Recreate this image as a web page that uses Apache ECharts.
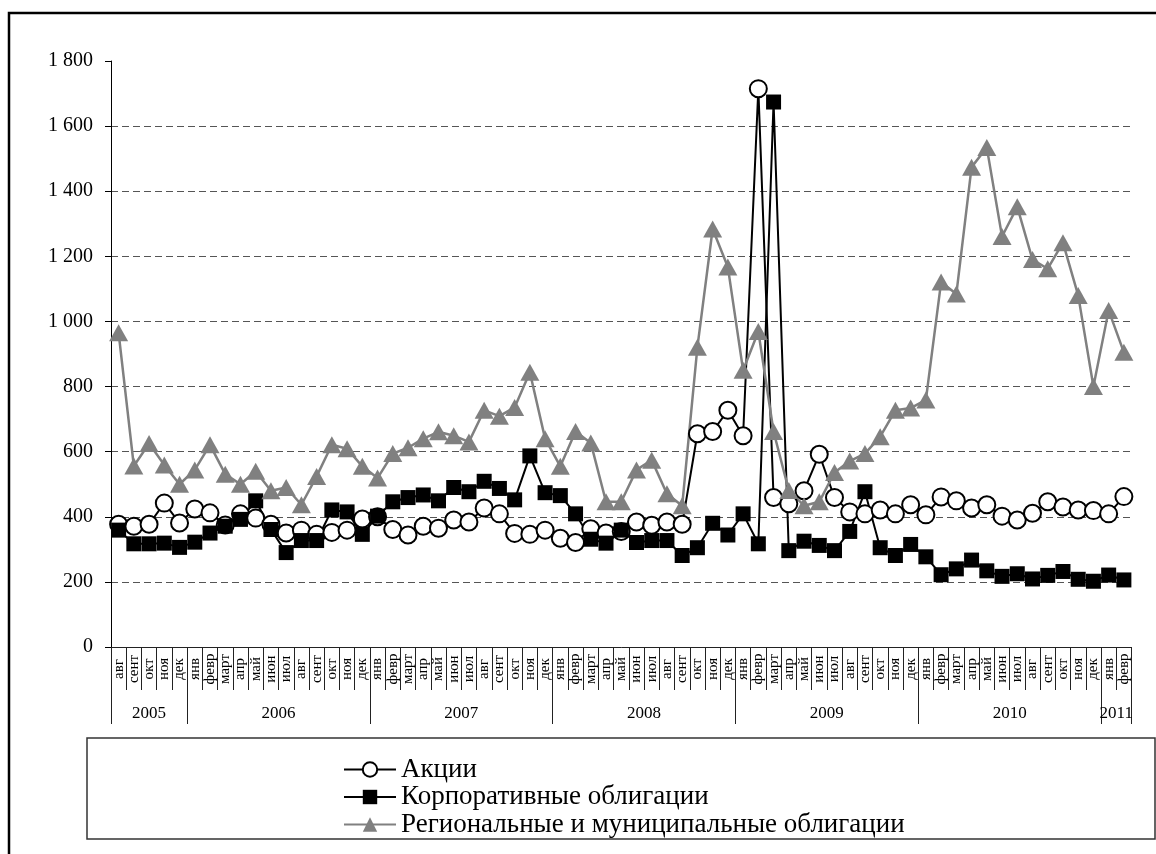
<!DOCTYPE html>
<html>
<head>
<meta charset="utf-8">
<script src="https://cdn.jsdelivr.net/npm/echarts@6/dist/echarts.min.js"></script>
<style>
html,body{margin:0;padding:0;background:#fff;}
#chart{width:1156px;height:854px;}
</style>
</head>
<body>
<div id="chart"></div>
<script>
// ---- Data ----
const years = ['2005', '2006', '2007', '2008', '2009', '2010', '2011'];
const monthsPerYear = [5, 12, 12, 12, 12, 12, 2];
const months = [
  'авг','сент','окт','ноя','дек',
  'янв','февр','март','апр','май','июн','июл','авг','сент','окт','ноя','дек',
  'янв','февр','март','апр','май','июн','июл','авг','сент','окт','ноя','дек',
  'янв','февр','март','апр','май','июн','июл','авг','сент','окт','ноя','дек',
  'янв','февр','март','апр','май','июн','июл','авг','сент','окт','ноя','дек',
  'янв','февр','март','апр','май','июн','июл','авг','сент','окт','ноя','дек',
  'янв','февр'
];
const yTicks = [0, 200, 400, 600, 800, 1000, 1200, 1400, 1600, 1800];

const seriesNames = ['Акции', 'Корпоративные облигации', 'Региональные и муниципальные облигации'];

const stocks = [
  377, 371, 377, 442, 381,
  424, 412, 375, 409, 396, 377, 350, 359, 346, 352, 359, 393,
  400, 361, 344, 371, 365, 390, 384, 427, 409, 349, 346, 359,
  334, 321, 363, 350, 355, 384, 374, 384, 377, 655, 662, 727,
  649, 1715, 459, 440, 480, 592, 459, 415, 409, 421, 409, 437,
  406, 461, 449, 427, 437, 402, 390, 411, 446, 430, 421, 419,
  409, 462
];
const corporate = [
  359, 317, 317, 319, 306,
  322, 350, 371, 392, 449, 361, 290, 327, 327, 421, 415, 346,
  402, 446, 459, 467, 449, 490, 477, 509, 487, 452, 587, 474,
  465, 409, 331, 319, 359, 321, 327, 327, 281, 305, 380, 344,
  409, 317, 1674, 296, 325, 312, 296, 355, 477, 305, 281, 315,
  277, 222, 240, 267, 234, 217, 225, 209, 220, 232, 208, 202,
  221, 206
];
const regional = [
  965, 556, 625, 559, 500,
  544, 621, 531, 500, 540, 480, 490, 437, 524, 621, 609, 555,
  519, 594, 612, 640, 661, 649, 630, 727, 709, 736, 844, 640,
  555, 662, 627, 446, 446, 544, 574, 471, 434, 921, 1284, 1167,
  850, 969, 662, 481, 434, 446, 536, 571, 594, 646, 727, 734,
  759, 1121, 1084, 1474, 1534, 1261, 1352, 1190, 1162, 1242, 1080, 800,
  1034, 905
];

// year boundaries and centres (in month units) for the year row
const yearBounds = [0];
monthsPerYear.forEach(function (n, i) { yearBounds.push(yearBounds[i] + n); });
const yearCenters = years.map(function (y, i) { return (yearBounds[i] + yearBounds[i + 1]) / 2; });
const yearByCenter = {};
yearCenters.forEach(function (c, i) { yearByCenter[c] = years[i]; });

const SERIF = '"Liberation Serif", "Times New Roman", serif';

const chart = echarts.init(document.getElementById('chart'), null, {renderer: 'canvas'});

chart.setOption({
  animation: false,
  backgroundColor: '#fff',
  grid: {left: 111, right: 24.5, top: 61, bottom: 207, containLabel: false},
  graphic: [
    {type: 'rect', shape: {x: 9, y: 13, width: 1300, height: 1000},
     style: {fill: 'none', stroke: '#000', lineWidth: 2.5}, z: -10, silent: true},
    {type: 'rect', shape: {x: 87, y: 738, width: 1068, height: 101},
     style: {fill: '#fff', stroke: '#333', lineWidth: 1.5}, z: -5, silent: true}
  ],
  legend: {
    orient: 'vertical',
    left: 338,
    top: 751,
    itemWidth: 52,
    itemHeight: 18,
    itemGap: 0.5,
    textStyle: {fontFamily: SERIF, fontSize: 27, color: '#000'},
    data: seriesNames
  },
  xAxis: [
    {
      type: 'category',
      data: months,
      boundaryGap: true,
      position: 'bottom',
      axisLine: {show: true, onZero: false, lineStyle: {color: '#222', width: 1}},
      axisTick: {show: true, interval: 0, length: 43, lineStyle: {color: '#222', width: 1}},
      axisLabel: {
        interval: 0, rotate: 90, align: 'center', verticalAlign: 'middle', margin: 22,
        fontFamily: SERIF, fontSize: 15, color: '#000'
      },
      splitLine: {show: false}
    },
    {
      type: 'value',
      min: 0,
      max: months.length,
      position: 'bottom',
      offset: 0,
      axisLine: {show: false, onZero: false},
      axisTick: {show: true, customValues: yearBounds, length: 77, lineStyle: {color: '#222', width: 1}},
      axisLabel: {
        show: true, customValues: yearCenters, margin: 58,
        fontFamily: SERIF, fontSize: 17, color: '#000',
        formatter: function (v) { return yearByCenter[v] || ''; }
      },
      splitLine: {show: false}
    }
  ],
  yAxis: {
    type: 'value',
    min: yTicks[0],
    max: yTicks[yTicks.length - 1],
    interval: yTicks[1] - yTicks[0],
    axisLine: {show: true, lineStyle: {color: '#000', width: 1}},
    axisTick: {show: true, length: 6, lineStyle: {color: '#000'}},
    axisLabel: {
      margin: 18, fontFamily: SERIF, fontSize: 20, color: '#000',
      formatter: function (v) { return String(v).replace(/\B(?=(\d{3})+(?!\d))/g, ' '); }
    },
    splitLine: {
      show: true, showMinLine: false, showMaxLine: false,
      lineStyle: {color: '#555', width: 1, type: [7, 4]}
    }
  },
  series: [
    {
      name: seriesNames[0], type: 'line', data: stocks,
      symbol: 'circle', symbolSize: 17, showAllSymbol: true,
      lineStyle: {color: '#000', width: 2},
      itemStyle: {color: '#fff', borderColor: '#000', borderWidth: 2}
    },
    {
      name: seriesNames[1], type: 'line', data: corporate,
      symbol: 'rect', symbolSize: 15, showAllSymbol: true,
      lineStyle: {color: '#000', width: 2},
      itemStyle: {color: '#000', borderColor: '#000', borderWidth: 0}
    },
    {
      name: seriesNames[2], type: 'line', data: regional,
      symbol: 'triangle', symbolSize: [19, 17], showAllSymbol: true,
      lineStyle: {color: '#808080', width: 2.5},
      itemStyle: {color: '#808080', borderColor: '#808080', borderWidth: 0}
    }
  ]
});
</script>
</body>
</html>
